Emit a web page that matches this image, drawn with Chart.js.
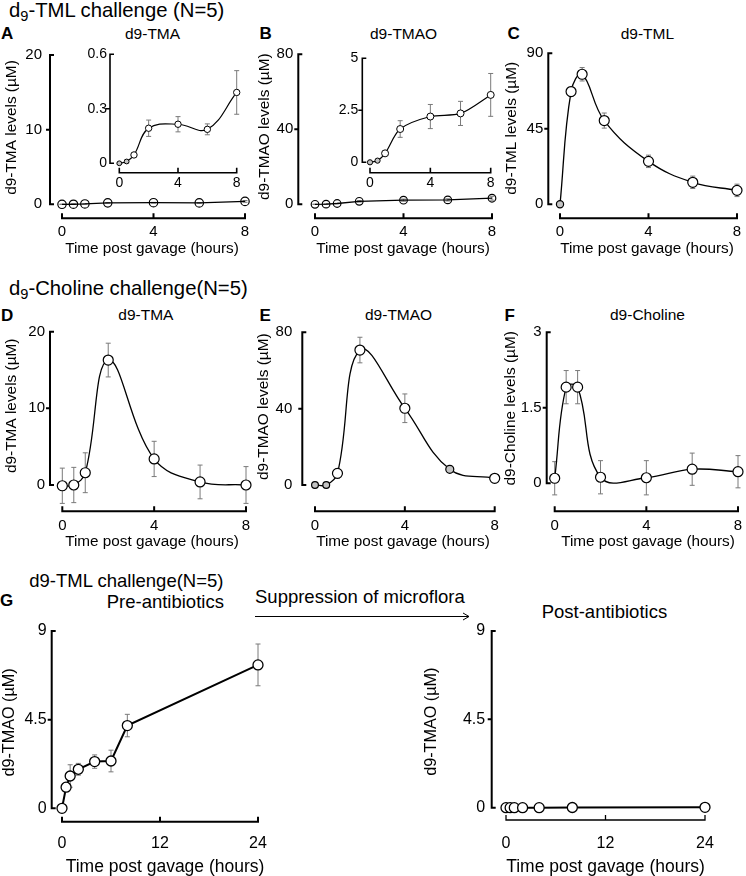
<!DOCTYPE html>
<html>
<head>
<meta charset="utf-8">
<script src="https://cdn.jsdelivr.net/npm/chart.js@4.4.1/dist/chart.umd.min.js"></script>
<style>
html, body { margin: 0; padding: 0; background: #fff; }
body { width: 746px; height: 876px; position: relative; overflow: hidden;
       font-family: 'Liberation Sans', Arial, Helvetica, sans-serif; color: #000; }
canvas { position: absolute; }
.t { position: absolute; white-space: nowrap; line-height: 1; }
.b { font-weight: bold; font-size: 17px; }
.h { font-size: 20.3px; }
.p { font-size: 15.5px; }
.g { font-size: 18.5px; }
sub { font-size: 0.72em; vertical-align: -0.3em; line-height: 0; }
</style>
</head>
<body>
<div class="t h" style="left:9px;top:0.2px">d<sub>9</sub>-TML challenge (N=5)</div>
<div class="t b" style="left:1px;top:24.8px">A</div>
<div class="t p" style="left:125px;top:25.5px">d9-TMA</div>
<div class="t b" style="left:259.5px;top:24.8px">B</div>
<div class="t p" style="left:370px;top:25.5px">d9-TMAO</div>
<div class="t b" style="left:507.5px;top:24.8px">C</div>
<div class="t p" style="left:620.7px;top:25.5px">d9-TML</div>

<div class="t h" style="left:9px;top:277.9px">d<sub>9</sub>-Choline challenge(N=5)</div>
<div class="t b" style="left:1px;top:306.5px">D</div>
<div class="t p" style="left:118.3px;top:307.3px">d9-TMA</div>
<div class="t b" style="left:259.5px;top:306.5px">E</div>
<div class="t p" style="left:365px;top:307.3px">d9-TMAO</div>
<div class="t b" style="left:504.5px;top:306.5px">F</div>
<div class="t p" style="left:610px;top:307.3px">d9-Choline</div>

<div class="t g" style="left:29.3px;top:571.5px">d9-TML challenge(N=5)</div>
<div class="t b" style="left:0px;top:591.5px">G</div>
<div class="t g" style="left:106.7px;top:592.5px">Pre-antibiotics</div>
<div class="t g" style="left:255px;top:587.5px">Suppression of microflora</div>
<div class="t g" style="left:541.7px;top:602.5px">Post-antibiotics</div>
<svg style="position:absolute;left:254px;top:610px" width="220" height="12">
  <path d="M1 6.5 H215 M209 3 L215 6.5 L209 10" stroke="#000" stroke-width="1" fill="none"/>
</svg>

<script>
// sampling times (hours post gavage)
const hours = [0, 0.5, 1, 2, 4, 6, 8];
const hoursPre = [0, 0.5, 1, 2, 4, 6, 8, 24];
const hoursPost = [0, 0.5, 1, 2, 4, 8, 24];

// d9-TML challenge, mean and SEM (uM)
const tmlTMA = [0, 0.01, 0.046, 0.193, 0.215, 0.187, 0.39];
const tmlTMAErr = [0.005, 0.008, 0.01, 0.045, 0.042, 0.03, 0.12];
const tmlTMAO = [0, 0.08, 0.43, 1.6, 2.2, 2.35, 3.24];
const tmlTMAOErr = [0.03, 0.05, 0.1, 0.4, 0.58, 0.58, 1.03];
const tmlTML = [0, 67.2, 77.5, 49.9, 25.6, 13.1, 8.3];
const tmlTMLErr = [1, 2.8, 4, 4.5, 3.7, 3.7, 3.7];

// d9-Choline challenge
const chTMA = [-0.1, 0, 1.6, 16.3, 3.4, 0.4, 0];
const chTMAErr = [2.3, 2.3, 2.6, 2.2, 2.3, 2.2, 2.4];
const chTMAO = [0, 0, 6.1, 70.7, 40.2, 8.2, 3.5];
const chTMAOErr = [1, 1, 2.5, 6.7, 7.5, 1.5, 1];
const chCholine = [0.1, 1.91, 1.91, 0.12, 0.11, 0.28, 0.23];
const chCholineErr = [0.33, 0.33, 0.33, 0.33, 0.34, 0.32, 0.32];

// d9-TML challenge before / after antibiotics
const preTMAO = [0, 1.07, 1.64, 1.98, 2.37, 2.4, 4.2, 7.28];
const preTMAOErr = [0.05, 0.2, 0.57, 0.3, 0.34, 0.55, 0.57, 1.06];
const postTMAO = [0, 0, 0, 0, 0, 0.01, 0.02];
const postTMAOErr = [0, 0, 0, 0, 0, 0, 0];

// tick labels
const ticks8 = [0, 4, 8];
const ticks24 = [0, 12, 24];
const ticksTMA = [0, 10, 20];
const ticksTMAsmall = [0, 0.3, 0.6];
const ticksTMAO = [0, 40, 80];
const ticksTMAOsmall = [0, 2.5, 5];
const ticksTML = [0, 45, 90];
const ticksCholine = [0, 1.5, 3];
const ticksG = [0, 4.5, 9];

Chart.defaults.font.family = "'Liberation Sans', Arial, Helvetica, sans-serif";
Chart.defaults.color = '#000';

const GREY = '#c4c4c4';

// offset axes: y bracket with inner feet, x axis below with ticks pointing up
const offsetAxes = {
  id: 'offsetAxes',
  beforeDatasetsDraw(chart, args, opts) {
    const { ctx, chartArea: a, scales: { x, y } } = chart;
    const yp = y.ticks.map(t => y.getPixelForValue(t.value));
    const xp = x.ticks.map(t => x.getPixelForValue(t.value));
    const n = yp.length - 1, m = xp.length - 1;
    ctx.save();
    ctx.strokeStyle = '#000';
    ctx.lineJoin = 'miter';
    ctx.lineWidth = opts.yWidth;
    ctx.beginPath();
    ctx.moveTo(a.left + 4, yp[n]);
    ctx.lineTo(a.left, yp[n]);
    ctx.lineTo(a.left, yp[0]);
    ctx.lineTo(a.left + 4, yp[0]);
    for (let i = 1; i < n; i++) {
      ctx.moveTo(a.left, yp[i]);
      ctx.lineTo(a.left - 4, yp[i]);
    }
    ctx.stroke();
    ctx.lineWidth = opts.xWidth;
    ctx.beginPath();
    ctx.moveTo(xp[0], a.bottom - 5);
    ctx.lineTo(xp[0], a.bottom);
    ctx.lineTo(xp[m], a.bottom);
    ctx.lineTo(xp[m], a.bottom - 5);
    for (let i = 1; i < m; i++) {
      ctx.moveTo(xp[i], a.bottom);
      ctx.lineTo(xp[i], a.bottom - 5);
    }
    ctx.stroke();
    ctx.restore();
  }
};

// SEM bars drawn under the line and markers
const errorBars = {
  id: 'errorBars',
  beforeDatasetsDraw(chart) {
    const { ctx, scales: { x, y } } = chart;
    ctx.save();
    ctx.strokeStyle = '#7a7a7a';
    ctx.lineWidth = 1;
    chart.data.datasets.forEach(ds => {
      if (!ds.err) return;
      ds.data.forEach((p, i) => {
        const e = ds.err[i];
        if (!e) return;
        const px = x.getPixelForValue(p.x);
        const top = y.getPixelForValue(p.y + e);
        const bot = y.getPixelForValue(p.y - e);
        ctx.beginPath();
        ctx.moveTo(px, top); ctx.lineTo(px, bot);
        ctx.moveTo(px - 2.5, top); ctx.lineTo(px + 2.5, top);
        ctx.moveTo(px - 2.5, bot); ctx.lineTo(px + 2.5, bot);
        ctx.stroke();
      });
    });
    ctx.restore();
  }
};

function makePanel(g, s) {
  const lhY = 1.2 * (s.yTitleFont || 15);
  const lhX = 1.2 * (s.xTitleFont || 15);
  const lhT = 1.2 * s.tickFont;
  const areaTop = g.ytc ? 2 * g.ytc - g.axisY : g.top;
  const areaRight = g.xtc ? 2 * g.xtc - g.axisX : g.right;
  const xt = s.xTicks, yt = s.yTicks;
  const pxX = (g.xEnd - g.x0) / (xt[xt.length - 1] - xt[0]);
  const pxY = (g.y0 - g.yTop) / (yt[yt.length - 1] - yt[0]);
  const xMin = xt[0] - (g.x0 - g.axisX) / pxX;
  const xMax = xt[xt.length - 1] + (areaRight - g.xEnd) / pxX;
  const yMin = yt[0] - (g.axisY - g.y0) / pxY;
  const yMax = yt[yt.length - 1] + (g.yTop - areaTop) / pxY;

  const left = Math.floor(s.yTitle ? g.ytx - lhY / 2 : g.axisX - 32);
  const top = Math.floor(areaTop - 24);
  const bottomEdge = s.xTitle ? g.xty + lhX / 2 : Math.max(g.xlab + lhT / 2 + 4, g.axisY + 26);
  const right = Math.ceil(areaRight + 14);
  const width = right - left;
  const height = Math.ceil(bottomEdge) - top;
  const wy = g.axisX - left;
  const hx = top + height - g.axisY;

  const cv = document.createElement('canvas');
  cv.width = width;
  cv.height = height;
  cv.style.left = left + 'px';
  cv.style.top = top + 'px';
  document.body.appendChild(cv);

  new Chart(cv, {
    type: 'line',
    data: {
      datasets: [{
        data: s.xs.map((h, i) => ({ x: h, y: s.ys[i] })),
        err: s.err,
        borderColor: '#000',
        borderWidth: s.lineWidth,
        tension: s.tension,
        pointRadius: s.radius,
        pointBackgroundColor: s.fill,
        pointBorderColor: '#000',
        pointBorderWidth: s.pointBorder,
        clip: false
      }]
    },
    options: {
      responsive: false,
      animation: false,
      events: [],
      layout: { padding: { top: areaTop - top, right: right - areaRight, left: 0, bottom: 0 } },
      plugins: {
        legend: { display: false },
        tooltip: { enabled: false },
        offsetAxes: { xWidth: s.xAxisWidth, yWidth: s.yAxisWidth }
      },
      scales: {
        x: {
          type: 'linear', min: xMin, max: xMax,
          afterBuildTicks: sc => { sc.ticks = xt.map(v => ({ value: v })); },
          afterFit: sc => { sc.height = hx; },
          grid: { display: false, drawTicks: false },
          border: { display: false },
          ticks: { padding: g.xlab - g.axisY - lhT / 2, font: { size: s.tickFont }, color: '#000',
                   maxRotation: 0, autoSkip: false, callback: v => String(v) },
          title: { display: !!s.xTitle, text: s.xTitle, padding: 0,
                   font: { size: s.xTitleFont }, color: '#000' }
        },
        y: {
          type: 'linear', min: yMin, max: yMax,
          afterBuildTicks: sc => { sc.ticks = yt.map(v => ({ value: v })); },
          afterFit: sc => { sc.width = wy; },
          grid: { display: false, drawTicks: false },
          border: { display: false },
          ticks: { padding: s.yPad, font: { size: s.tickFont }, color: '#000',
                   autoSkip: false, callback: v => String(v) },
          title: { display: !!s.yTitle, text: s.yTitle, padding: 0,
                   font: { size: s.yTitleFont }, color: '#000' }
        }
      }
    },
    plugins: [offsetAxes, errorBars]
  });
}

const xTitle = 'Time post gavage (hours)';
const open = 'rgba(0,0,0,0)';
const row = { tickFont: 15, xTitleFont: 15.3, yTitleFont: 15.4, lineWidth: 1.3, pointBorder: 1.2,
              xAxisWidth: 2, yAxisWidth: 2, xTitle: xTitle };
const inset = { tickFont: 14, lineWidth: 1.2, pointBorder: 1, xAxisWidth: 1.6, yAxisWidth: 1.6 };

// A
makePanel({ axisX: 50, axisY: 218.3, x0: 62, xEnd: 245, y0: 204.3, yTop: 55,
            ytx: 12.5, ytc: 127.5, xtc: 152, xty: 248.3, xlab: 231.7 },
  Object.assign({}, row, { xs: hours, ys: tmlTMA, err: tmlTMAErr, xTicks: ticks8, yTicks: ticksTMA,
    yTitle: 'd9-TMA levels (\u00b5M)', yPad: 8, radius: 4.2, fill: open, tension: 0 }));
makePanel({ axisX: 110, axisY: 172.7, x0: 119.3, xEnd: 236.7, y0: 163.3, yTop: 54.3,
            top: 46, right: 242, xlab: 183.3 },
  Object.assign({}, inset, { xs: hours, ys: tmlTMA, err: tmlTMAErr, xTicks: ticks8, yTicks: ticksTMAsmall,
    yPad: 3, radius: [2.4, 2.4, 3.2, 3.2, 3.2, 3.2, 3.2],
    fill: [GREY, GREY, '#fff', '#fff', '#fff', '#fff', '#fff'], tension: 0.4 }));

// B
makePanel({ axisX: 298.3, axisY: 218.3, x0: 315, xEnd: 492, y0: 204.3, yTop: 54.3,
            ytx: 265.5, ytc: 126.7, xtc: 403, xty: 248.3, xlab: 231.7 },
  Object.assign({}, row, { xs: hours, ys: tmlTMAO, err: tmlTMAOErr, xTicks: ticks8, yTicks: ticksTMAO,
    yTitle: 'd9-TMAO levels (\u00b5M)', yPad: 5, radius: 3.8, fill: open, tension: 0 }));
makePanel({ axisX: 362.3, axisY: 172.7, x0: 370, xEnd: 490.7, y0: 162.3, yTop: 58.3,
            top: 48, right: 497, xlab: 183.3 },
  Object.assign({}, inset, { xs: hours, ys: tmlTMAO, err: tmlTMAOErr, xTicks: ticks8, yTicks: ticksTMAOsmall,
    yPad: 4, radius: [2.6, 2.6, 3.5, 3.5, 3.5, 3.5, 3.5],
    fill: [GREY, GREY, '#fff', '#fff', '#fff', '#fff', '#fff'], tension: 0.3 }));

// C
makePanel({ axisX: 548.3, axisY: 218.3, x0: 560, xEnd: 737, y0: 204.3, yTop: 53.3,
            ytx: 512.3, ytc: 128.3, xtc: 647, xty: 248.3, xlab: 231.7 },
  Object.assign({}, row, { xs: hours, ys: tmlTML, err: tmlTMLErr, xTicks: ticks8, yTicks: ticksTML,
    yTitle: 'd9-TML levels (\u00b5M)', yPad: 5, radius: [3.6, 5, 5, 5, 5, 5, 5],
    fill: [GREY, '#fff', '#fff', '#fff', '#fff', '#fff', '#fff'], tension: 0.4 }));

// D
makePanel({ axisX: 50, axisY: 511.3, x0: 62.3, xEnd: 246, y0: 485, yTop: 331.7,
            ytx: 12.5, ytc: 405.8, xtc: 152, xty: 541.3, xlab: 526.3 },
  Object.assign({}, row, { xs: hours, ys: chTMA, err: chTMAErr, xTicks: ticks8, yTicks: ticksTMA,
    yTitle: 'd9-TMA levels (\u00b5M)', yPad: 5, radius: 5, fill: '#fff', tension: 0.4 }));

// E
makePanel({ axisX: 302.3, axisY: 511.3, x0: 315, xEnd: 494.7, y0: 485, yTop: 332.3,
            ytx: 265, ytc: 406.7, xtc: 403, xty: 541.3, xlab: 526.3 },
  Object.assign({}, row, { xs: hours, ys: chTMAO, err: chTMAOErr, xTicks: ticks8, yTicks: ticksTMAO,
    yTitle: 'd9-TMAO levels (\u00b5M)', yPad: 10, radius: [3.4, 3.4, 5, 5, 5, 4, 5],
    fill: [GREY, GREY, '#fff', '#fff', '#fff', GREY, '#fff'], tension: 0.4 }));

// F
makePanel({ axisX: 546.7, axisY: 511.3, x0: 554.7, xEnd: 738, y0: 483.3, yTop: 332.3,
            ytx: 511.7, ytc: 408.3, xtc: 648, xty: 541.3, xlab: 526.3 },
  Object.assign({}, row, { xs: hours, ys: chCholine, err: chCholineErr, xTicks: ticks8, yTicks: ticksCholine,
    yTitle: 'd9-Choline levels (\u00b5M)', yPad: 5, radius: 5, fill: '#fff', tension: 0.4 }));

// G
const gRow = { tickFont: 16, xTitleFont: 17.5, yTitleFont: 16.2, lineWidth: 2, pointBorder: 1.3,
               xAxisWidth: 2, yAxisWidth: 2, xTitle: xTitle, radius: 5, fill: '#fff', tension: 0,
               xTicks: ticks24, yTicks: ticksG, yTitle: 'd9-TMAO (\u00b5M)' };
makePanel({ axisX: 51.7, axisY: 821.7, x0: 62, xEnd: 258, y0: 808.3, yTop: 631,
            ytx: 10, ytc: 722.5, xtc: 165, xty: 866.7, xlab: 843.3 },
  Object.assign({}, gRow, { xs: hoursPre, ys: preTMAO, err: preTMAOErr, yPad: 5 }));
makePanel({ axisX: 491.7, axisY: 820, x0: 506, xEnd: 705, y0: 807.7, yTop: 631,
            ytx: 432.3, ytc: 721.7, xtc: 605.5, xty: 866.7, xlab: 843.3 },
  Object.assign({}, gRow, { xs: hoursPost, ys: postTMAO, err: postTMAOErr, yPad: 6.5, xAxisWidth: 1.3 }));
</script>
</body>
</html>
